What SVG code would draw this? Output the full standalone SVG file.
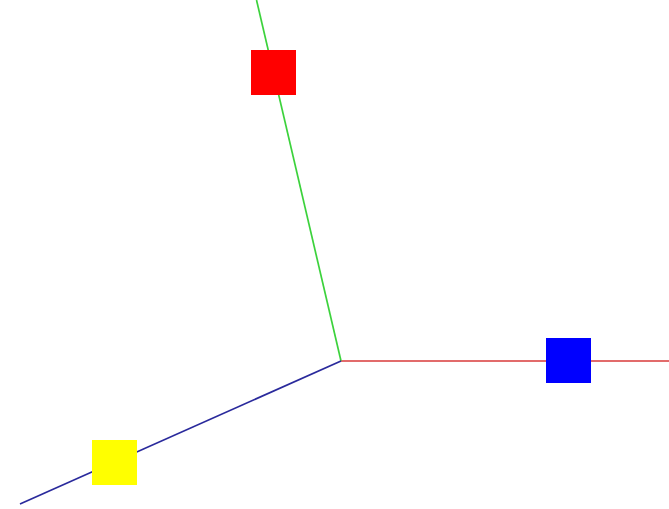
<svg xmlns="http://www.w3.org/2000/svg" width="669" height="509" viewBox="0 0 669 509">
<style>
.ax{stroke-width:1.7;fill:none}
.sq{stroke:none}
</style>
<rect width="669" height="509" fill="#ffffff"/>
<g id="connectors">
<line class="ax" x1="341" y1="361" x2="669" y2="361" stroke="#d83a3a"/>
<line class="ax" x1="341" y1="361" x2="256.5" y2="0" stroke="#3cd23c"/>
<line class="ax" x1="341" y1="361" x2="20" y2="504" stroke="#2a2a9c"/>
</g>
<g id="red"><rect class="sq" x="251" y="50" width="45" height="45" fill="#ff0000"/></g>
<g id="blue"><rect class="sq" x="546" y="338" width="45" height="45" fill="#0000ff"/></g>
<g id="yellow"><rect class="sq" x="92" y="440" width="45" height="45" fill="#ffff00"/></g>
</svg>
